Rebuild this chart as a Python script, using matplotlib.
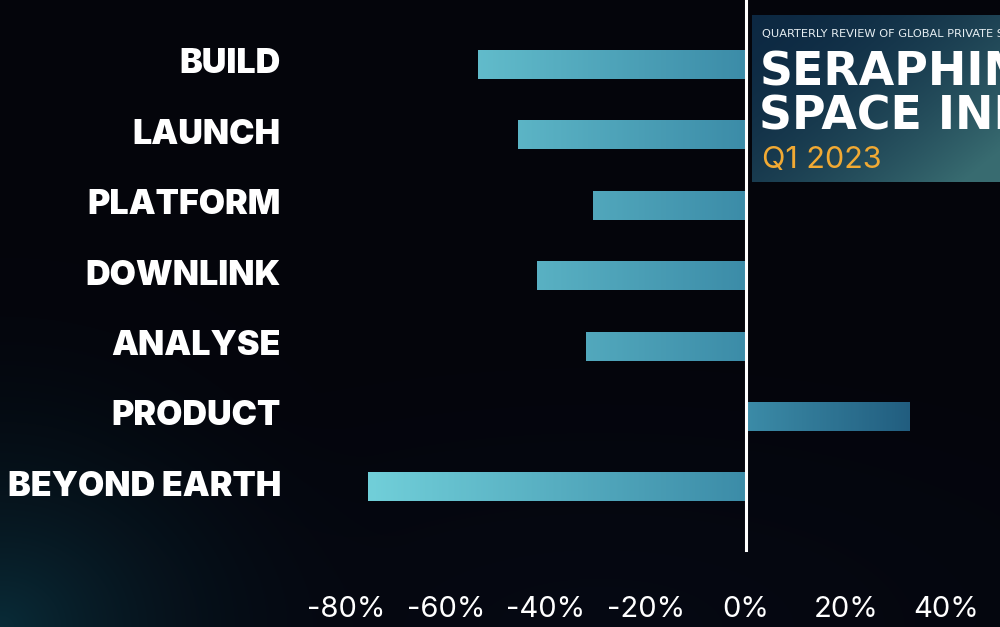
"""Seraphim Space Index - Q1 2023 sector performance bar chart."""

import numpy as np
import matplotlib.pyplot as plt
from matplotlib.colors import LinearSegmentedColormap, Normalize

# data
categories = ["BUILD", "LAUNCH", "PLATFORM", "DOWNLINK", "ANALYSE", "PRODUCT", "BEYOND EARTH"]
changes = [-53.6, -45.6, -30.6, -41.8, -32.0, 32.8, -75.6]
tick_values = [-80, -60, -40, -20, 0, 20, 40]
tick_labels = ["-80%", "-60%", "-40%", "-20%", "0%", "20%", "40%"]

W, H = 1000, 627
BG = "#04050c"

fig = plt.figure(figsize=(W / 100, H / 100), dpi=100)
fig.patch.set_facecolor(BG)

# background with faint teal glow bottom-left
bg_ax = fig.add_axes([0, 0, 1, 1])
bg_ax.set_axis_off()
yy, xx = np.mgrid[0:H, 0:W]
base = np.array([0.016, 0.02, 0.047])
glow = np.array([0.02, 0.15, 0.17])
d = np.sqrt((xx / 420.0) ** 2 + ((H - yy) / 380.0) ** 2)
g = np.clip(1 - d, 0, 1) ** 2.2
d2 = np.sqrt(((xx - 600) / 650.0) ** 2 + ((H - yy) / 260.0) ** 2)
g2 = np.clip(1 - d2, 0, 1) * 0.35
img = base + g[..., None] * glow + g2[..., None] * np.array([0.02, 0.04, 0.08])
bg_ax.imshow(np.clip(img, 0, 1), extent=[0, 1, 0, 1], aspect="auto")

# main axes: 0% at x=746px, 5px per percent
ax_bottom = 560
ax = fig.add_axes([0, 1 - ax_bottom / H, 1, ax_bottom / H])
ax.patch.set_alpha(0)
xlim = (-746 / 5.0, (W - 746) / 5.0)
step = 70.4
ylim = ((ax_bottom - 64.5) / step, -64.5 / step)

cmap = LinearSegmentedColormap.from_list(
    "bars", [(0, "#74d3dc"), (80 / 115, "#3c8ca8"), (1, "#205b7d")]
)
norm = Normalize(-80, 35)

y = np.arange(len(categories))
bars = ax.barh(y, changes, height=0.41, color="none")
grad = np.linspace(xlim[0], xlim[1], 500)[None, :]
for bar in bars:
    im = ax.imshow(grad, extent=[xlim[0], xlim[1], ylim[0], ylim[1]],
                   cmap=cmap, norm=norm, aspect="auto", interpolation="bilinear")
    im.set_clip_path(bar)

ax.set_xlim(*xlim)
ax.set_ylim(*ylim)

ax.axvline(0, ymin=10 / ax_bottom, ymax=1, color="white", lw=2.2)

for yi, name in zip(y, categories):
    ax.text((281 - 746) / 5.0, yi, name, ha="right", va="center",
            color="white", fontsize=24.5, fontweight="black", family="Inter")

ax.set_xticks(tick_values)
ax.set_xticklabels(tick_labels, color="white", fontsize=21, family="Inter")
ax.tick_params(axis="x", length=0, pad=26)
ax.set_yticks([])
for s in ax.spines.values():
    s.set_visible(False)

# report cover inset
ins = fig.add_axes([752 / W, 1 - 182 / H, 248 / W, 167 / H])
ins.set_axis_off()
iy, ix = np.mgrid[0:100, 0:150]
t = np.clip((ix / 150.0) * 0.6 + (iy / 100.0) * 0.5, 0, 1)
c0 = np.array([0.05, 0.16, 0.26])
c1 = np.array([0.22, 0.42, 0.44])
cov = c0 + (c1 - c0) * t[..., None] ** 1.8
ins.imshow(cov, extent=[0, 1, 0, 1], aspect="auto")
ins.set_xlim(0, 1)
ins.set_ylim(0, 1)
ins.text(0.04, 0.885, "QUARTERLY REVIEW OF GLOBAL PRIVATE SPACE COMPANIES",
         color="#e6eef2", fontsize=8.2, va="center", ha="left", family="DejaVu Sans")
ins.text(0.03, 0.655, "SERAPHIM", color="white", fontsize=33, fontweight="bold",
         va="center", ha="left", family="DejaVu Sans")
ins.text(0.03, 0.39, "SPACE INDEX", color="white", fontsize=33, fontweight="bold",
         va="center", ha="left", family="DejaVu Sans")
ins.text(0.04, 0.13, "Q1 2023", color="#f2aa33", fontsize=22, va="center",
         ha="left", family="Inter")

fig.savefig("out.png", dpi=100, facecolor=BG)
